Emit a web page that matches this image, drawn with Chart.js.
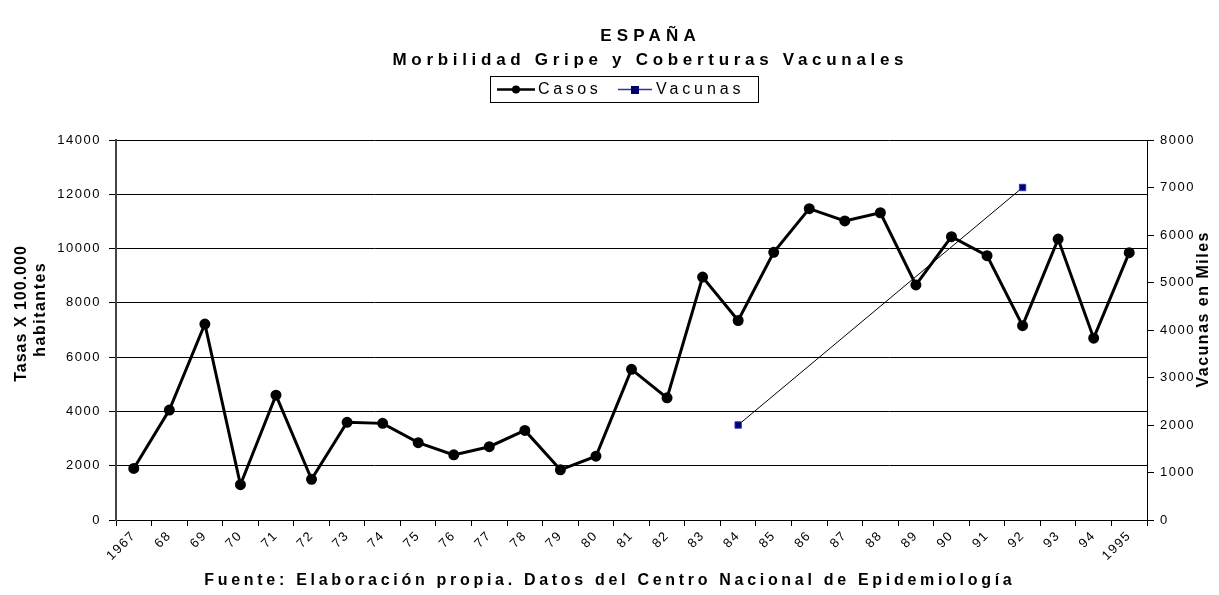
<!DOCTYPE html>
<html lang="es">
<head>
    <meta charset="UTF-8">
    <script src="https://cdn.jsdelivr.net/npm/chart.js"></script>
    <title>España - Morbilidad Gripe y Coberturas Vacunales</title>
    <style>
        body { margin: 0; background: #fff; }
    </style>
</head>
<body>
    <canvas id="gripeChart" width="1219" height="595"></canvas>

    <script>
    // years on the x axis
    const years = ['1967', '68', '69', '70', '71', '72', '73', '74', '75', '76', '77', '78', '79', '80',
        '81', '82', '83', '84', '85', '86', '87', '88', '89', '90', '91', '92', '93', '94', '1995'];

    // rates per 100.000 inhabitants (left axis)
    const casos = [1900, 4050, 7220, 1300, 4600, 1500, 3600, 3560, 2850, 2400, 2700, 3300, 1850, 2350,
        5550, 4500, 8950, 7350, 9860, 11470, 11020, 11320, 8660, 10440, 9740, 7160, 10350, 6700, 9850];

    // vaccines in thousands (right axis), only two years known
    const vacunas = [null, null, null, null, null, null, null, null, null, null, null, null, null, null,
        null, null, null, 2000, null, null, null, null, null, null, null, 7000, null, null, null];

    const leftTicks = [0, 2000, 4000, 6000, 8000, 10000, 12000, 14000];
    const rightTicks = [0, 1000, 2000, 3000, 4000, 5000, 6000, 7000, 8000];

    const FONT = "'Liberation Sans', Arial, sans-serif";

    function spacedText(ctx, text, x, y, font, spacing, align) {
        ctx.save();
        ctx.font = font;
        ctx.letterSpacing = spacing + 'px';
        ctx.fillStyle = '#000';
        ctx.textBaseline = 'middle';
        ctx.textAlign = align || 'center';
        if (ctx.textAlign === 'center') x += spacing / 2;
        ctx.fillText(text, x, y);
        ctx.restore();
    }

    // ticks get a little spacing like the original
    const tickSpacing = {
        id: 'tickSpacing',
        beforeLayout(chart) { chart.ctx.letterSpacing = '1.5px'; },
        beforeDraw(chart) { chart.ctx.letterSpacing = '1.5px'; }
    };

    const decorations = {
        id: 'decorations',
        afterDraw(chart) {
            const ctx = chart.ctx;
            spacedText(ctx, 'ESPAÑA', 648, 36, 'bold 17px ' + FONT, 5.2);
            spacedText(ctx, 'Morbilidad Gripe y Coberturas Vacunales', 648, 60, 'bold 17px ' + FONT, 4.7);

            // legend box
            ctx.save();
            ctx.strokeStyle = '#000';
            ctx.lineWidth = 1;
            ctx.strokeRect(490.5, 76.5, 268, 26);
            ctx.lineWidth = 2.5;
            ctx.beginPath();
            ctx.moveTo(497, 89.5);
            ctx.lineTo(535, 89.5);
            ctx.stroke();
            ctx.fillStyle = '#000';
            ctx.beginPath();
            ctx.arc(516, 89.5, 4, 0, Math.PI * 2);
            ctx.fill();
            ctx.strokeStyle = '#3333aa';
            ctx.lineWidth = 1.5;
            ctx.beginPath();
            ctx.moveTo(618, 89.5);
            ctx.lineTo(652, 89.5);
            ctx.stroke();
            ctx.fillStyle = '#000066';
            ctx.fillRect(631, 86, 8, 8);
            ctx.restore();
            spacedText(ctx, 'Casos', 538, 90, '16px ' + FONT, 3.6, 'left');
            spacedText(ctx, 'Vacunas', 656, 90, '16px ' + FONT, 3.9, 'left');

            // axis titles
            ctx.save();
            ctx.translate(22, 314);
            ctx.rotate(-Math.PI / 2);
            spacedText(ctx, 'Tasas X 100.000', 0, 0, 'bold 16px ' + FONT, 1);
            ctx.restore();
            ctx.save();
            ctx.translate(41, 310);
            ctx.rotate(-Math.PI / 2);
            spacedText(ctx, 'habitantes', 0, 0, 'bold 16px ' + FONT, 1.5);
            ctx.restore();
            ctx.save();
            ctx.translate(1204, 310);
            ctx.rotate(-Math.PI / 2);
            spacedText(ctx, 'Vacunas en Miles', 0, 0, 'bold 16px ' + FONT, 1.5);
            ctx.restore();

            spacedText(ctx, 'Fuente: Elaboración propia. Datos del Centro Nacional de Epidemiología',
                608, 581, 'bold 16px ' + FONT, 3.7);
        }
    };

    const ctx = document.getElementById('gripeChart');

    new Chart(ctx, {
        type: 'line',
        data: {
            labels: years,
            datasets: [{
                label: 'Casos',
                data: casos,
                yAxisID: 'y',
                borderColor: '#000',
                backgroundColor: '#000',
                borderWidth: 3,
                pointRadius: 4,
                pointHoverRadius: 4,
                tension: 0
            }, {
                label: 'Vacunas',
                data: vacunas,
                yAxisID: 'y1',
                spanGaps: true,
                borderColor: '#000',
                borderWidth: 1,
                pointStyle: 'rect',
                pointRadius: 4.5,
                pointBackgroundColor: '#000066',
                pointBorderColor: '#3333cc',
                pointBorderWidth: 1,
                tension: 0
            }]
        },
        options: {
            responsive: false,
            animation: false,
            layout: {
                autoPadding: false,
                padding: { top: 140, left: 0, right: 0, bottom: 0 }
            },
            plugins: {
                legend: { display: false },
                title: { display: false },
                tooltip: { enabled: false }
            },
            scales: {
                x: {
                    offset: true,
                    grid: {
                        offset: true,
                        drawOnChartArea: false,
                        color: '#000',
                        tickLength: 6,
                        tickColor: '#000'
                    },
                    border: { color: '#000', width: 1 },
                    ticks: {
                        autoSkip: false,
                        minRotation: 45,
                        maxRotation: 45,
                        color: '#000',
                        padding: 2,
                        font: { family: FONT, size: 13 }
                    },
                    afterFit(scale) { scale.height = 75; }
                },
                y: {
                    position: 'left',
                    min: 0,
                    max: 14000,
                    afterBuildTicks(scale) { scale.ticks = leftTicks.map(v => ({ value: v })); },
                    grid: {
                        color: '#000',
                        lineWidth: 1,
                        tickLength: 7,
                        tickColor: '#000'
                    },
                    border: { color: '#444', width: 2 },
                    ticks: {
                        color: '#000',
                        padding: 8,
                        font: { family: FONT, size: 13 },
                        callback: v => String(v)
                    },
                    afterFit(scale) { scale.width = 116; }
                },
                y1: {
                    position: 'right',
                    min: 0,
                    max: 8000,
                    afterBuildTicks(scale) { scale.ticks = rightTicks.map(v => ({ value: v })); },
                    grid: {
                        drawOnChartArea: false,
                        tickLength: 7,
                        tickColor: '#000'
                    },
                    border: { color: '#000', width: 1 },
                    ticks: {
                        color: '#000',
                        padding: 6,
                        font: { family: FONT, size: 13 },
                        callback: v => String(v)
                    },
                    afterFit(scale) { scale.width = 72; }
                }
            }
        },
        plugins: [tickSpacing, decorations]
    });
    </script>
</body>
</html>
